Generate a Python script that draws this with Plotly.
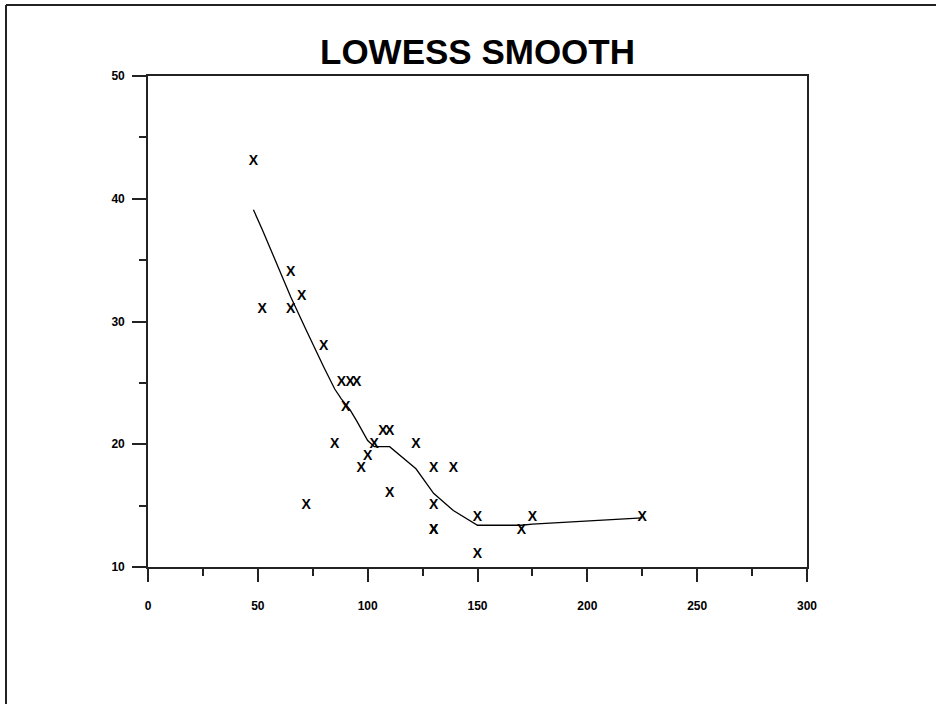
import plotly.graph_objects as go

# scatter data
x_pts = [48, 52, 65, 65, 70, 72, 80, 85, 88, 92, 95, 90, 97, 100, 103, 107, 110, 110,
         122, 130, 139, 130, 130, 130, 150, 150, 170, 175, 225]
y_pts = [43, 31, 34, 31, 32, 15, 28, 20, 25, 25, 25, 23, 18, 19, 20, 21, 21, 16,
         20, 18, 18, 15, 13, 13, 14, 11, 13, 14, 14]

# lowess smooth curve
x_fit = [48, 52, 65, 70, 72, 80, 85, 88, 90, 92, 95, 97, 100, 103, 107, 110,
         122, 130, 139, 150, 170, 175, 225]
y_fit = [39.1, 37.5, 32.0, 30.0, 29.3, 26.3, 24.5, 23.7, 23.2, 22.8, 21.9, 21.3,
         20.3, 19.8, 19.8, 19.8, 18.0, 16.0, 14.6, 13.4, 13.4, 13.5, 14.0]

title_text = "LOWESS SMOOTH"
FONT = "Liberation Sans, Arial, sans-serif"

fig = go.Figure()
fig.add_trace(go.Scatter(
    x=x_fit, y=y_fit, mode="lines",
    line=dict(color="black", width=1.3), hoverinfo="skip", showlegend=False))
fig.add_trace(go.Scatter(
    x=x_pts, y=y_pts, mode="text", text=["X"] * len(x_pts),
    textposition="middle center",
    textfont=dict(family=FONT, size=14, color="black", weight="bold"),
    showlegend=False))

axis_common = dict(
    showgrid=False, zeroline=False, showline=True, mirror=True,
    linecolor="#222", linewidth=1.6, ticks="outside", tickcolor="#222",
    tickwidth=1.6, automargin=False,
    tickfont=dict(family=FONT, size=12, color="black", weight="bold"))

fig.update_xaxes(range=[0, 300], tickvals=[0, 50, 100, 150, 200, 250, 300],
                 ticklen=13, ticklabelstandoff=14,
                 minor=dict(tickvals=[25, 75, 125, 175, 225, 275], ticklen=7,
                            tickcolor="#222", tickwidth=1.6, ticks="outside"),
                 **axis_common)
fig.update_yaxes(range=[10, 50], tickvals=[10, 20, 30, 40, 50],
                 ticklen=14, ticklabelstandoff=5,
                 minor=dict(tickvals=[15, 25, 35, 45], ticklen=7,
                            tickcolor="#222", tickwidth=1.6, ticks="outside"),
                 **axis_common)

W, H = 936, 704
L, R, T, B = 148, 129, 76, 137
pw, ph = W - L - R, H - T - B
def px(x):
    return (x - L) / pw
def py(y):
    return (H - B - y) / ph

fig.update_layout(
    width=W, height=H, margin=dict(l=L, r=R, t=T, b=B, autoexpand=False),
    paper_bgcolor="white", plot_bgcolor="white",
    title=dict(text=title_text, x=0.5, xref="paper", xanchor="center",
               y=1 - 52 / H, yref="container", yanchor="middle",
               font=dict(family=FONT, size=35, color="black", weight="bold")),
    shapes=[
        dict(type="line", xref="paper", yref="paper", x0=px(6), x1=px(6),
             y0=py(5), y1=py(720), line=dict(color="#222", width=2)),
        dict(type="line", xref="paper", yref="paper", x0=px(6), x1=px(950),
             y0=py(5), y1=py(5), line=dict(color="#222", width=2)),
    ],
)

fig.write_html(
    "out.html",
    config={"displayModeBar": False},
    post_script="document.body.style.margin='0';document.body.style.overflow='hidden';",
)
